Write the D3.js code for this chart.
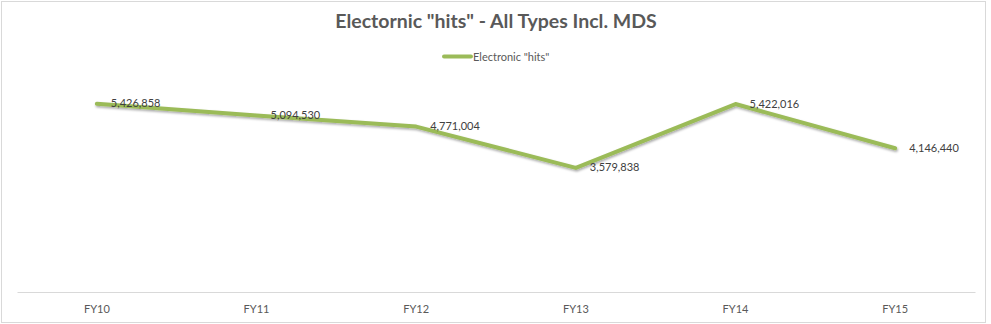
<!DOCTYPE html>
<html><head><meta charset="utf-8">
<script src="https://cdn.jsdelivr.net/npm/d3@7"></script>
<style>body{margin:0;background:#fff}svg{display:block}</style>
</head><body>
<svg id="c" width="991" height="324"></svg>
<script>
const categories = ["FY10","FY11","FY12","FY13","FY14","FY15"];
const values = [5426858, 5094530, 4771004, 3579838, 5422016, 4146440];
const seriesName = 'Electronic "hits"';
const title = 'Electornic "hits" - All Types Incl. MDS';

const W = 991, H = 324;
const svg = d3.select("#c");
const font = "Lato, 'Open Sans', sans-serif";

const defs = svg.append("defs");
const f = defs.append("filter").attr("id","sh").attr("x","-10%").attr("y","-50%").attr("width","120%").attr("height","200%");
f.append("feDropShadow").attr("dx",0.8).attr("dy",1.6).attr("stdDeviation",1.2).attr("flood-color","#000").attr("flood-opacity",0.35);

svg.append("rect").attr("x",1.5).attr("y",1.5).attr("width",984).attr("height",321)
  .attr("fill","#fff").attr("stroke","#d9d9d9").attr("stroke-width",1);

const x = d3.scaleBand().domain(categories).range([17,975]);
const y = d3.scaleLinear().domain([0,6000000]).range([292,84]);

svg.append("text").attr("x",496).attr("y",28).attr("text-anchor","middle")
  .attr("font-family",font).attr("font-weight","bold").attr("font-size",19.5).attr("fill","#595959").text(title);

// legend
svg.append("line").attr("x1",444).attr("x2",471).attr("y1",56.5).attr("y2",56.5)
  .attr("stroke","#9bbb59").attr("stroke-width",4).attr("stroke-linecap","round");
svg.append("text").attr("x",473).attr("y",60.5).attr("font-family",font).attr("font-size",11)
  .attr("fill","#595959").text(seriesName);

// axis
const ax = svg.append("g").attr("transform","translate(0,292)").call(d3.axisBottom(x).tickSize(0).tickPadding(13));
ax.select(".domain").attr("stroke","#d9d9d9").attr("stroke-width",1);
ax.selectAll("text").attr("font-family",font).attr("font-size",11).attr("fill","#595959");

const cx = d => x(d) + x.bandwidth()/2;
const line = d3.line().x((d,i)=>cx(categories[i])).y(d=>y(d));
svg.append("path").datum(values).attr("d",line).attr("fill","none")
  .attr("stroke","#9bbb59").attr("stroke-width",4).attr("stroke-linecap","round").attr("stroke-linejoin","round")
  .attr("filter","url(#sh)");

svg.selectAll("text.lbl").data(values).enter().append("text").attr("class","lbl")
  .attr("x",(d,i)=>cx(categories[i])+14).attr("y",d=>y(d)+3.5)
  .attr("font-family",font).attr("font-size",11).attr("fill","#404040")
  .text(d=>d3.format(",")(d));
</script>
</body></html>
